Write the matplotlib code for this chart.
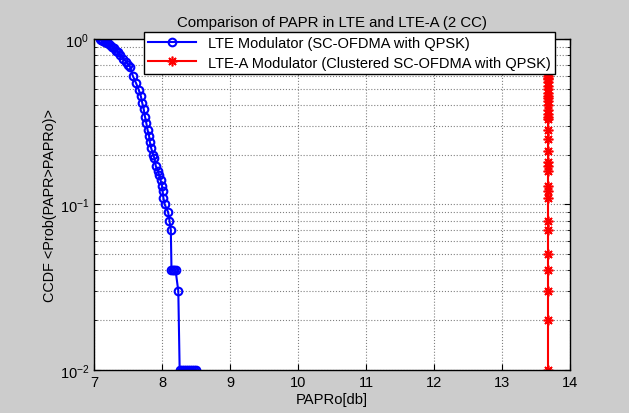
import numpy as np
import matplotlib
matplotlib.use("Agg")
import matplotlib.pyplot as plt

plt.rcParams['font.family'] = ['Liberation Sans', 'DejaVu Sans']

# LTE (SC-OFDMA, QPSK): PAPRo threshold [dB] and CCDF
lte_papr = [7.09, 7.10, 7.12, 7.14, 7.16, 7.19, 7.21, 7.24, 7.27, 7.30,
            7.33, 7.36, 7.39, 7.43, 7.47, 7.50, 7.53, 7.57, 7.62, 7.66,
            7.69, 7.71, 7.73, 7.75, 7.77, 7.79, 7.81, 7.82, 7.84, 7.87,
            7.89, 7.91, 7.94, 7.96, 7.98, 8.00, 8.01, 8.02, 8.04, 8.09,
            8.11, 8.13, 8.14, 8.16, 8.18, 8.20, 8.24, 8.26, 8.29, 8.32,
            8.35, 8.38, 8.41, 8.44, 8.47, 8.50]
lte_ccdf = [1.00, 0.99, 0.98, 0.97, 0.96, 0.95, 0.94, 0.92, 0.90, 0.88,
            0.85, 0.83, 0.80, 0.76, 0.73, 0.70, 0.68, 0.60, 0.54, 0.49,
            0.45, 0.41, 0.38, 0.34, 0.31, 0.28, 0.26, 0.24, 0.22, 0.20,
            0.19, 0.17, 0.16, 0.15, 0.14, 0.13, 0.12, 0.11, 0.10, 0.09,
            0.08, 0.07, 0.04, 0.04, 0.04, 0.04, 0.03, 0.01, 0.01, 0.01,
            0.01, 0.01, 0.01, 0.01, 0.01, 0.01]

# LTE-A (clustered SC-OFDMA, QPSK, 2 CC)
ltea_ccdf = [0.01, 0.02, 0.03, 0.04, 0.05, 0.07, 0.08, 0.11, 0.12, 0.13,
             0.16, 0.17, 0.18, 0.21, 0.25, 0.28, 0.33, 0.34, 0.35, 0.37,
             0.40, 0.42, 0.44, 0.45, 0.47, 0.50, 0.52, 0.55, 0.57, 0.58,
             0.60, 0.62, 0.64, 0.66, 0.70, 0.75, 0.80, 0.85, 0.90, 0.95, 1.00]
ltea_papr = [13.68] * len(ltea_ccdf)

fig = plt.figure(figsize=(6.29, 4.14), dpi=100, facecolor='#cccccc')
ax = fig.add_axes([0.1494, 0.1039, 0.7568, 0.7995])

ax.semilogy(lte_papr, lte_ccdf, '-o', color='blue', mfc='none', mec='blue',
            ms=5.5, mew=1.5, lw=1.5,
            label='LTE Modulator (SC-OFDMA with QPSK)')
ax.semilogy(ltea_papr, ltea_ccdf, '-', color='red', marker=(8, 2, 0),
            ms=7, mew=1.2, lw=1.5,
            label='LTE-A Modulator (Clustered SC-OFDMA with QPSK)')

ax.set_xlim(7, 14)
ax.set_ylim(0.01, 1)
ax.set_xticks(range(7, 15))
ax.grid(True, which='major', ls=':', color='0.5', lw=0.8)
ax.grid(True, which='minor', axis='y', ls=':', color='0.5', lw=0.8)
ax.tick_params(which='both', direction='in', top=True, right=True,
               labelsize=10.5)
ax.tick_params(which='major', length=4)
ax.tick_params(which='minor', length=2.5)
for s in ax.spines.values():
    s.set_linewidth(1.0)

ax.set_title('Comparison of PAPR in LTE and LTE-A (2 CC)', fontsize=10.8, pad=9)
ax.set_xlabel('PAPRo[db]', fontsize=10.6, labelpad=2)
ax.set_ylabel('CCDF <Prob(PAPR>PAPRo)>', fontsize=10.4, labelpad=2)

leg = ax.legend(loc='upper right', bbox_to_anchor=(0.969, 1.021), fontsize=10.5,
                fancybox=False, framealpha=1, edgecolor='black',
                borderpad=0.3, labelspacing=0.35, handlelength=3.3,
                borderaxespad=0)
leg.get_frame().set_linewidth(1.0)

fig.savefig('out.png', dpi=100, facecolor=fig.get_facecolor())
